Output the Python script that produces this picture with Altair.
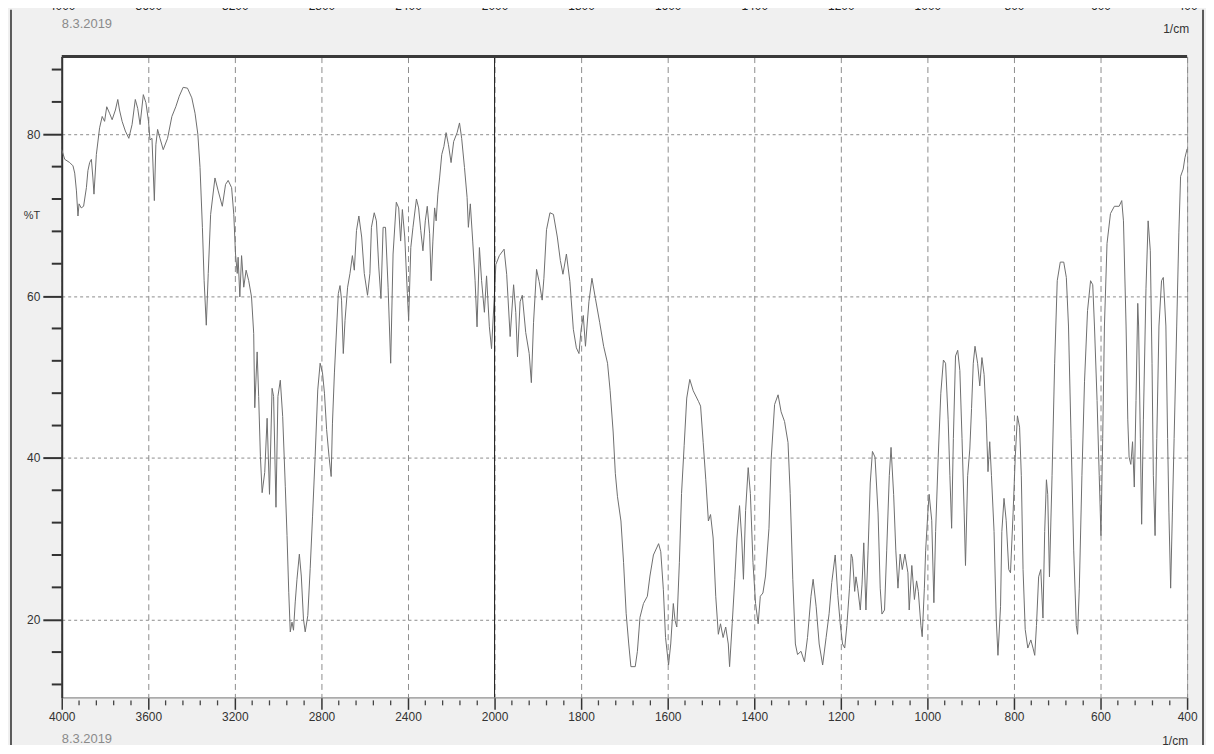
import altair as alt
import pandas as pd

# ---- spectrum data (wavenumber in 1/cm, transmittance in %T) ----
wavenumber = [
    4000, 3986, 3963, 3948, 3940, 3932, 3925, 3920, 3910, 3899, 3886, 3879, 3871, 3863, 3856, 3851,
    3840, 3825, 3813, 3802, 3792, 3779, 3767, 3752, 3741, 3733, 3721, 3706, 3690, 3675, 3660, 3649,
    3638, 3623, 3611, 3599, 3592, 3583, 3572, 3565, 3557, 3546, 3531, 3511, 3491, 3473, 3457, 3439,
    3419, 3399, 3384, 3371, 3361, 3350, 3342, 3332, 3323, 3312, 3292, 3277, 3258, 3243, 3231, 3215,
    3205, 3197, 3189, 3185, 3177, 3169, 3159, 3148, 3136, 3123, 3113, 3108, 3097, 3090, 3082, 3074,
    3062, 3051, 3040, 3028, 3021, 3010, 3001, 2990, 2979, 2967, 2959, 2951, 2944, 2936, 2929, 2921,
    2913, 2902, 2893, 2883, 2875, 2863, 2852, 2841, 2829, 2817, 2806, 2795, 2786, 2776, 2765, 2755,
    2749, 2740, 2722, 2714, 2707, 2699, 2691, 2679, 2668, 2657, 2648, 2638, 2627, 2614, 2602, 2587,
    2576, 2569, 2556, 2546, 2535, 2525, 2515, 2504, 2492, 2480, 2469, 2454, 2443, 2434, 2426, 2415,
    2403, 2397, 2387, 2377, 2361, 2351, 2341, 2331, 2320, 2311, 2300, 2293, 2285, 2277, 2270, 2262,
    2254, 2244, 2234, 2224, 2213, 2201, 2189, 2173, 2162, 2152, 2139, 2127, 2121, 2112, 2101, 2090,
    2081, 2070, 2060, 2047, 2037, 2024, 2014, 2001,
    1997, 1989, 1978, 1972, 1964, 1956, 1951, 1947, 1941, 1936, 1928, 1920, 1915, 1910, 1903, 1897,
    1890, 1886, 1880, 1872, 1864, 1855, 1848, 1842, 1834, 1826, 1818, 1811, 1805, 1800, 1795, 1790,
    1782, 1775, 1767, 1757, 1748, 1739, 1733, 1726, 1721, 1716, 1708, 1702, 1696, 1690, 1685, 1675,
    1670, 1664, 1656, 1647, 1641, 1633, 1621, 1616, 1610, 1605, 1598, 1593, 1587, 1583, 1579, 1573,
    1568, 1562, 1556, 1549, 1541, 1529, 1524, 1518, 1512, 1506, 1501, 1495, 1489, 1483, 1478, 1472,
    1466, 1460, 1457, 1451, 1445, 1440, 1434, 1429, 1425, 1420, 1414, 1409, 1403, 1397, 1391, 1386,
    1380, 1374, 1366, 1361, 1353, 1345, 1338, 1330, 1322, 1317, 1311, 1305, 1300, 1292, 1284, 1277,
    1269, 1264, 1257, 1250, 1242, 1234, 1227, 1221, 1213, 1207, 1201, 1196, 1191, 1186, 1180, 1176,
    1173, 1168, 1165, 1161, 1155, 1151, 1147, 1142, 1137, 1132, 1127, 1121, 1114, 1109, 1105, 1099,
    1094, 1088, 1084, 1078, 1073, 1068, 1063, 1058, 1052, 1045, 1042, 1036, 1030, 1025, 1021, 1015,
    1012, 1007, 1004, 999, 996, 990, 985, 981, 975, 969, 963, 958, 952, 948, 944, 940,
    935, 930, 925, 920, 915, 912, 907, 902, 898, 894, 890, 884, 879, 874, 869, 864,
    860, 856, 852, 846, 841, 837, 831, 828, 823, 818, 812, 808, 802, 797, 792, 787,
    783, 779, 774, 768, 761, 756, 752, 748, 743, 738, 733, 729, 725, 722, 718, 712,
    706, 700, 693, 685, 679, 674, 668, 662, 656, 653, 649, 643, 637, 630, 623, 618,
    614, 608, 603, 599, 595, 591, 585, 577, 568, 557, 551, 547, 541, 537, 534, 530,
    526, 522, 518, 514, 512, 508, 505, 501, 495, 490, 485, 481, 478, 474, 470, 465,
    459, 455, 449, 445, 442, 438, 434, 430, 424, 419, 415, 409, 405, 400,
]
transmittance = [
    78.1, 76.9, 76.5, 76.1, 75.2, 73.0, 69.9, 71.4, 70.9, 71.1, 73.4, 75.5, 76.5, 76.9, 74.6, 72.6,
    77.5, 80.8, 82.2, 81.6, 83.4, 82.6, 81.8, 83.0, 84.3, 83.0, 81.6, 80.4, 79.5, 81.2, 84.3, 83.2,
    81.2, 84.9, 83.9, 81.6, 79.3, 79.5, 71.8, 78.7, 80.6, 79.5, 78.1, 79.5, 82.2, 83.4, 84.7, 85.8,
    85.7, 84.5, 82.6, 80.0, 75.9, 68.5, 61.9, 56.4, 62.8, 70.1, 74.6, 73.0, 71.1, 73.8, 74.3, 73.4,
    70.1, 65.2, 62.8, 64.8, 59.9, 65.0, 61.1, 63.2, 61.9, 59.9, 55.4, 46.2, 53.1, 47.6, 40.2, 35.7,
    38.2, 44.9, 35.5, 48.6, 47.6, 33.9, 47.6, 49.6, 45.1, 36.5, 30.4, 23.4, 18.5, 19.7, 18.7, 22.2,
    25.0, 28.1, 25.4, 20.1, 18.5, 20.5, 26.3, 32.8, 40.2, 48.4, 51.7, 50.5, 48.0, 43.5, 40.2, 37.7,
    44.3, 50.5, 60.3, 61.3, 59.5, 52.9, 57.0, 61.1, 62.8, 65.0, 63.2, 68.1, 69.9, 67.3, 62.8, 60.1,
    62.8, 68.5, 70.3, 69.3, 63.6, 59.7, 68.5, 68.5, 61.1, 51.7, 65.2, 71.6, 70.9, 66.8, 70.7, 67.3,
    60.3, 57.0, 66.0, 68.5, 72.0, 70.9, 68.1, 65.6, 69.3, 71.1, 67.7, 61.9, 66.8, 70.9, 69.3, 72.6,
    74.6, 77.5, 78.5, 80.2, 78.7, 76.5, 79.1, 80.2, 81.4, 79.5, 75.9, 72.2, 68.5, 71.4, 66.8, 61.9,
    56.2, 66.0, 61.9, 58.0, 62.5, 56.2, 53.5, 60.0,
    63.9, 65.0, 65.8, 62.7, 55.0, 61.4, 58.0, 52.5, 59.3, 60.1, 55.5, 52.9, 49.3, 56.7, 63.3, 61.8,
    59.5, 62.2, 68.2, 70.3, 70.1, 67.3, 64.4, 62.7, 65.2, 61.8, 55.9, 53.6, 52.9, 55.9, 57.6, 53.8,
    59.3, 62.2, 59.7, 56.7, 53.8, 51.7, 48.3, 43.2, 38.1, 35.2, 32.2, 27.1, 20.8, 17.0, 14.2, 14.2,
    16.1, 20.3, 22.0, 22.9, 25.4, 28.0, 29.4, 28.4, 23.7, 17.8, 14.4, 17.0, 22.0, 19.9, 19.1, 27.1,
    35.6, 41.5, 47.4, 49.7, 48.3, 47.0, 46.4, 41.9, 37.3, 32.2, 33.0, 30.1, 22.9, 18.2, 19.5, 17.8,
    19.1, 17.0, 14.2, 19.5, 25.0, 30.1, 34.1, 30.1, 25.0, 33.5, 38.8, 35.6, 27.1, 22.0, 19.5, 22.9,
    23.3, 25.4, 31.3, 39.8, 46.6, 47.8, 45.7, 44.5, 41.9, 35.6, 25.0, 17.0, 15.7, 16.1, 14.8, 17.8,
    22.9, 25.0, 21.6, 17.0, 14.4, 17.8, 20.8, 24.6, 28.0, 23.0, 19.3, 17.0, 16.5, 19.3, 23.9, 28.1,
    27.6, 23.5, 25.3, 23.9, 21.2, 24.4, 29.5, 21.2, 28.6, 36.9, 40.8, 40.1, 33.2, 23.9, 20.7, 21.2,
    28.6, 37.8, 41.3, 35.5, 28.6, 23.9, 28.1, 26.2, 28.1, 25.8, 21.2, 26.7, 22.5, 24.8, 23.5, 19.3,
    17.9, 23.9, 28.6, 33.2, 35.5, 32.3, 22.1, 30.9, 40.1, 48.0, 52.1, 51.7, 44.7, 37.8, 31.3, 42.4,
    52.6, 53.3, 50.8, 42.4, 33.2, 26.7, 37.8, 41.1, 46.1, 51.7, 53.8, 51.7, 48.9, 52.4, 50.3, 44.7,
    38.3, 42.0, 37.8, 30.9, 20.2, 15.6, 21.6, 30.9, 35.0, 32.3, 26.2, 25.8, 33.2, 40.1, 45.2, 43.8,
    37.8, 26.2, 18.8, 16.5, 17.5, 16.5, 15.6, 19.3, 25.3, 26.2, 20.2, 30.9, 37.3, 35.5, 25.3, 37.8,
    51.7, 61.9, 64.2, 64.2, 62.3, 56.3, 42.4, 28.6, 19.3, 18.2, 23.9, 37.8, 49.4, 58.2, 61.9, 61.4,
    56.3, 47.1, 37.8, 30.4, 42.4, 56.3, 66.5, 70.2, 71.1, 71.1, 71.8, 69.3, 56.3, 44.7, 40.1, 39.2,
    42.0, 36.4, 47.1, 59.1, 56.3, 42.4, 31.8, 44.7, 60.9, 69.3, 65.6, 51.7, 37.8, 30.4, 42.4, 56.3,
    61.9, 62.3, 56.3, 42.4, 33.2, 23.9, 33.2, 42.4, 56.3, 67.9, 74.8, 75.7, 77.1, 78.2,
]

# axis tick values (wavenumbers) and %T ticks
x_major_wn = [4000, 3600, 3200, 2800, 2400, 2000, 1800, 1600, 1400, 1200, 1000, 800, 600, 400]
x_minor_wn = [w for w in range(3920, 2000, -80) if w % 400] + [w for w in range(1960, 400, -40) if w % 200]
y_major = [20, 40, 60, 80]
y_minor = [v for v in range(12, 89, 4) if v not in y_major]

W, H = 1131, 644
FONT = "Liberation Sans Narrow, Arial Narrow, Liberation Sans, Arial, sans-serif"

# the x axis is compressed 2:1 above 2000 1/cm (as on the instrument printout)
POS = "datum.wn >= 2000 ? (4000 - datum.wn) / 2 : 1000 + (2000 - datum.wn)"
def to_pos(w):
    return (4000 - w) / 2 if w >= 2000 else 1000 + (2000 - w)
x_major_pos = [to_pos(w) for w in x_major_wn]
LABEL_EXPR = "datum.value <= 1000 ? 4000 - 2 * datum.value : 3000 - datum.value"

x_scale = alt.Scale(domain=[0, 2600], nice=False, zero=False)
y_scale = alt.Scale(domain=[10.4, 89.6], nice=False, zero=False)

df = pd.DataFrame({"wn": wavenumber, "T": transmittance})

spectrum = alt.Chart(df).transform_calculate(pos=POS).mark_line(
    color="#6e6e6e", strokeWidth=1, interpolate="linear"
).encode(
    x=alt.X("pos:Q", scale=x_scale, axis=alt.Axis(
        values=x_major_pos, labelExpr=LABEL_EXPR, title=None,
        tickSize=12, tickWidth=1.5, tickColor="#333333",
        domainColor="#9a9a9a", domainWidth=1,
        labelFont=FONT, labelFontSize=12, labelColor="#333333", labelPadding=2,
        labelFlush=False, labelOverlap=False,
        grid=True, gridDash=[6, 4], gridColor="#8c8c8c", gridWidth=1,
    )),
    y=alt.Y("T:Q", scale=y_scale, axis=alt.Axis(
        values=y_major, title=None, format="d",
        tickSize=19, tickWidth=2, tickColor="#333333",
        domainColor="#333333", domainWidth=2,
        labelFont=FONT, labelFontSize=12, labelColor="#333333", labelPadding=3,
        grid=True, gridDash=[3, 3], gridColor="#8c8c8c", gridWidth=1,
    )),
)

# solid line at the 2000 1/cm scale change
split = alt.Chart(pd.DataFrame({"wn": [2000]})).transform_calculate(pos=POS).mark_rule(
    color="#1a1a1a", strokeWidth=1
).encode(x=alt.X("pos:Q", scale=x_scale, axis=None))

# minor ticks
x_minor = alt.Chart(pd.DataFrame({"wn": x_minor_wn})).transform_calculate(pos=POS).mark_rule(
    color="#444444", strokeWidth=1.3
).encode(
    x=alt.X("pos:Q", scale=x_scale, axis=None),
    y=alt.value(H + 3), y2=alt.value(H + 8),
)
y_minor_ticks = alt.Chart(pd.DataFrame({"T": y_minor})).mark_rule(
    color="#333333", strokeWidth=2
).encode(
    y=alt.Y("T:Q", scale=y_scale, axis=None),
    x=alt.value(-10), x2=alt.value(0),
)

# cut-off top axis labels of the printout (only their lower edge shows)
top_axis = alt.Chart(pd.DataFrame({"wn": x_major_wn})).transform_calculate(pos=POS).mark_point(
    opacity=0
).encode(
    x=alt.X("pos:Q", scale=x_scale, axis=alt.Axis(
        orient="top", values=x_major_pos, labelExpr=LABEL_EXPR, title=None,
        ticks=False, domain=False, grid=False, labelFlush=False, labelOverlap=False,
        labelFont=FONT, labelFontSize=12, labelColor="#222222", labelPadding=44,
    )),
    y=alt.Y("wn:Q", scale=y_scale, axis=None),
)

# frame decoration
top_border = alt.Chart(pd.DataFrame({"k": [0]})).mark_rule(color="#3a3a3a", strokeWidth=3).encode(
    x=alt.value(0), x2=alt.value(W), y=alt.value(0)
)
frame_left = alt.Chart(pd.DataFrame({"k": [0]})).mark_rule(color="#5a5a5a", strokeWidth=2).encode(
    x=alt.value(-51), y=alt.value(-47), y2=alt.value(H + 50),
)
frame_right = alt.Chart(pd.DataFrame({"k": [0]})).mark_rule(color="#5a5a5a", strokeWidth=2).encode(
    x=alt.value(W + 16), y=alt.value(-47), y2=alt.value(H + 50),
)

def label(text, x, y, align, color, size):
    return alt.Chart(pd.DataFrame({"t": [text]})).mark_text(
        align=align, baseline="middle", font=FONT, fontSize=size, color=color
    ).encode(text="t:N", x=alt.value(x), y=alt.value(y))

texts = [
    label("8.3.2019", 0, -33, "left", "#8a8a8a", 13),
    label("8.3.2019", 0, 686, "left", "#8a8a8a", 13),
    label("1/cm", W + 2, -28, "right", "#333333", 12),
    label("1/cm", W + 1, 688, "right", "#333333", 12),
    label("%T", -30, 160, "center", "#333333", 11),
]

chart = alt.layer(
    spectrum, split, x_minor, y_minor_ticks, top_axis, top_border, frame_left, frame_right, *texts
).resolve_axis(x="independent", y="independent").properties(
    width=W, height=H,
    autosize=alt.AutoSizeParams(type="none"),
    padding={"left": 54, "top": 47, "right": 19, "bottom": 46},
    background="#f0f0f0",
).configure_view(fill="white", stroke="#a8a8a8", strokeWidth=1)

chart.save("out.html", embed_options={"renderer": "svg", "actions": False})
